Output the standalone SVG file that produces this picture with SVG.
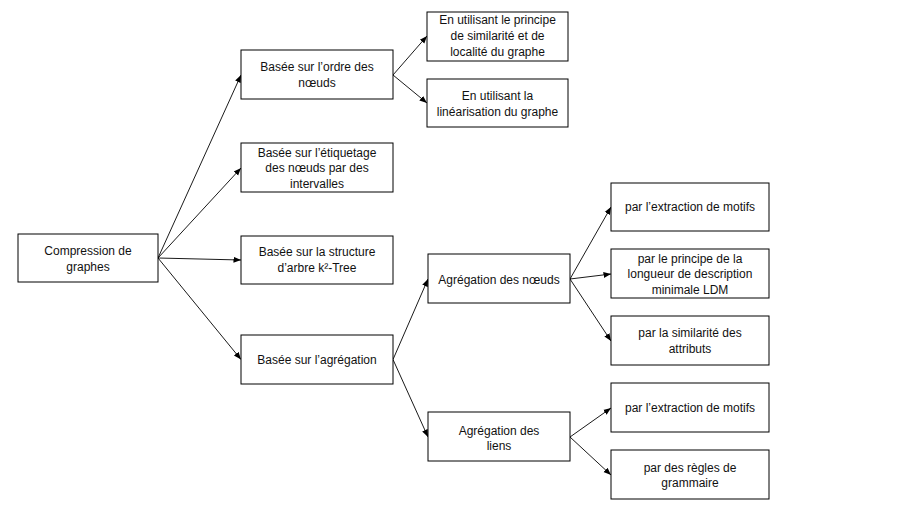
<svg xmlns="http://www.w3.org/2000/svg" width="900" height="506" viewBox="0 0 900 506">
<style>
.box{fill:#fff;stroke:#000;stroke-width:1}
.t{font-family:"Liberation Sans",Arial,sans-serif;font-size:12px;fill:#111;text-anchor:middle}
.c{stroke:#000;stroke-width:0.9;fill:none;marker-end:url(#ah)}
</style>
<defs>
<marker id="ah" markerUnits="userSpaceOnUse" markerWidth="8" markerHeight="8" viewBox="0 0 8 8" refX="7.5" refY="4" orient="auto">
<path d="M0,1 L7.5,4 L0,7 Z" fill="#000"/>
</marker>
</defs>
<rect width="900" height="506" fill="#fff"/>
<g id="connectors">
<line class="c" x1="158" y1="258" x2="241" y2="75"/>
<line class="c" x1="158" y1="258" x2="241" y2="168"/>
<line class="c" x1="158" y1="258" x2="241" y2="260"/>
<line class="c" x1="158" y1="258" x2="241" y2="359.5"/>
<line class="c" x1="393" y1="75" x2="427" y2="36"/>
<line class="c" x1="393" y1="75" x2="427" y2="103"/>
<line class="c" x1="393" y1="359.5" x2="428" y2="279"/>
<line class="c" x1="393" y1="359.5" x2="428" y2="437"/>
<line class="c" x1="570" y1="279" x2="611" y2="207"/>
<line class="c" x1="570" y1="279" x2="611" y2="274"/>
<line class="c" x1="570" y1="279" x2="611" y2="341"/>
<line class="c" x1="570" y1="437" x2="611" y2="408"/>
<line class="c" x1="570" y1="437" x2="611" y2="475"/>
</g>
<g id="root">
<rect class="box" x="18" y="234" width="140" height="48"/>
<text class="t" x="88" y="255">Compression de</text>
<text class="t" x="88" y="271">graphes</text>
</g>
<g id="ordre">
<rect class="box" x="241" y="50" width="152" height="49"/>
<text class="t" x="317" y="71">Basée sur l’ordre des</text>
<text class="t" x="317" y="87">nœuds</text>
</g>
<g id="etiquetage">
<rect class="box" x="241" y="143" width="152" height="49"/>
<text class="t" x="317" y="156.5">Basée sur l’étiquetage</text>
<text class="t" x="317" y="172">des nœuds par des</text>
<text class="t" x="317" y="187.5">intervalles</text>
</g>
<g id="structure">
<rect class="box" x="241" y="236" width="152" height="48"/>
<text class="t" x="317" y="256">Basée sur la structure</text>
<text class="t" x="317" y="272">d’arbre k²-Tree</text>
</g>
<g id="agregation">
<rect class="box" x="241" y="335" width="152" height="49"/>
<text class="t" x="317" y="363.5">Basée sur l’agrégation</text>
</g>
<g id="similarite">
<rect class="box" x="427" y="12" width="141" height="49"/>
<text class="t" x="497.5" y="23.5">En utilisant le principe</text>
<text class="t" x="497.5" y="40">de similarité et de</text>
<text class="t" x="497.5" y="56">localité du graphe</text>
</g>
<g id="linearisation">
<rect class="box" x="427" y="79" width="141" height="48"/>
<text class="t" x="497.5" y="99.5">En utilisant la</text>
<text class="t" x="497.5" y="115.5">linéarisation du graphe</text>
</g>
<g id="agreg-noeuds">
<rect class="box" x="428" y="254" width="142" height="49"/>
<text class="t" x="499" y="283.5">Agrégation des nœuds</text>
</g>
<g id="agreg-liens">
<rect class="box" x="428" y="412" width="142" height="49"/>
<text class="t" x="499" y="434.5">Agrégation des</text>
<text class="t" x="499" y="450">liens</text>
</g>
<g id="motifs1">
<rect class="box" x="611" y="183" width="158" height="48"/>
<text class="t" x="690" y="211">par l’extraction de motifs</text>
</g>
<g id="ldm">
<rect class="box" x="611" y="249" width="158" height="49"/>
<text class="t" x="690" y="262.5">par le principe de la</text>
<text class="t" x="690" y="278">longueur de description</text>
<text class="t" x="690" y="293.5">minimale LDM</text>
</g>
<g id="attributs">
<rect class="box" x="611" y="316" width="158" height="49"/>
<text class="t" x="690" y="336.5">par la similarité des</text>
<text class="t" x="690" y="352.5">attributs</text>
</g>
<g id="motifs2">
<rect class="box" x="611" y="383" width="158" height="49"/>
<text class="t" x="690" y="411.5">par l’extraction de motifs</text>
</g>
<g id="grammaire">
<rect class="box" x="611" y="450" width="158" height="49"/>
<text class="t" x="690" y="472">par des règles de</text>
<text class="t" x="690" y="487">grammaire</text>
</g>
</svg>
